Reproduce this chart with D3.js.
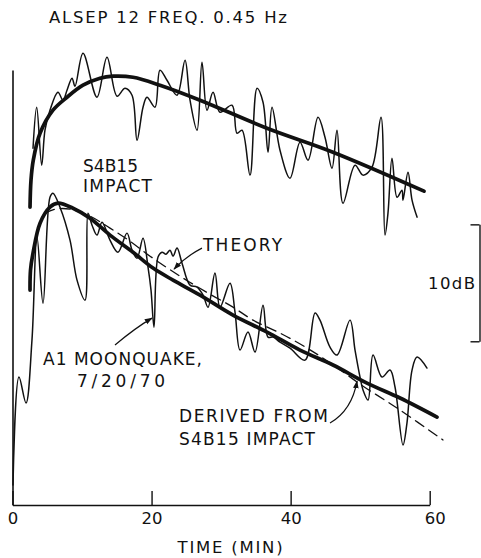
<!DOCTYPE html>
<html><head><meta charset="utf-8">
<script src="https://cdn.jsdelivr.net/npm/d3@7/dist/d3.min.js"></script>
<style>
html,body{margin:0;padding:0;background:#fff;}
svg{display:block;}
text{font-family:"DejaVu Sans","Liberation Sans",Arial,sans-serif;fill:#111;}
</style></head>
<body>
<script>
// ---- data (time in minutes, level in dB, arbitrary zero) ----
const xTicks = [0, 20, 40, 60];
const xTickLabels = ["0", "20", "40", "60"];
const titleText = "ALSEP 12 FREQ. 0.45 Hz";
const xLabel = "TIME (MIN)";
const scaleBarDb = [14, 24];      // 10 dB reference bar
const scaleBarLabel = "10dB";

// S4B15 impact, observed (thin)
const impactT  = [2.95,3.48,4.20,4.67,5.39,6.54,7.26,7.84,8.56,8.99,10.14,12.15,13.59,15.03,16.18,17.19,17.91,18.77,19.34,20.49,21.21,22.22,23.66,24.81,25.53,26.54,27.25,27.97,28.84,29.84,31.57,32.29,33.01,34.16,35.17,36.03,36.75,37.32,38.47,39.91,41.35,42.50,43.94,44.94,45.95,46.67,47.53,49.26,50.41,51.70,53.00,53.57,54.00,54.58,55.30,56.01,56.16,56.88,57.46,58.18];
const impactDb = [30.51,34.02,29.06,32.05,33.76,35.30,34.62,35.47,36.50,35.81,38.63,34.87,38.29,34.96,35.64,35.04,31.20,34.02,34.87,34.02,37.18,36.32,35.04,38.03,34.62,32.05,37.86,33.76,35.30,33.59,34.19,31.79,32.05,28.21,35.64,34.44,30.17,34.02,30.34,27.95,31.03,29.49,33.16,31.45,28.80,32.05,25.81,29.06,28.21,28.89,33.16,23.08,24.96,29.66,26.32,26.92,26.07,28.46,26.07,24.62];

// S4B15 impact, smooth fit (thick)
const impactFitT  = [2.52,2.66,2.99,3.96,5.82,7.84,10.14,12.58,14.45,17.33,21.21,26.97,36.60,46.09,59.18];
const impactFitDb = [25.47,27.78,29.49,31.79,33.76,34.87,35.90,36.50,36.67,36.58,35.90,34.62,32.22,30.17,26.84];

// A1 moonquake, observed (thin)
const quakeT  = [0.07,0.93,1.94,2.80,3.52,4.39,5.39,5.82,6.83,8.27,9.28,10.43,10.86,11.44,12.15,12.87,14.02,15.17,16.47,17.19,17.91,18.77,19.49,19.92,20.35,20.93,21.50,22.08,22.65,23.09,23.66,24.38,25.53,26.54,27.40,28.12,29.12,29.84,31.28,32.00,32.72,33.87,34.88,36.03,36.75,37.47,38.47,39.91,42.07,43.51,44.22,45.66,46.67,48.54,49.26,49.98,50.41,51.13,51.85,53.14,54.29,55.01,56.16,56.73,57.46,58.18,59.61];
const quakeDb = [1.71,10.94,8.72,14.10,22.91,17.26,26.32,26.67,25.47,22.65,19.23,17.52,24.96,23.93,23.08,24.19,22.65,21.62,23.25,21.79,21.11,22.82,20.34,18.38,15.21,21.20,21.62,21.45,21.79,21.28,21.97,20.68,18.80,18.63,17.95,16.92,19.83,16.92,18.97,16.50,13.25,14.79,13.08,17.09,14.36,14.36,13.93,13.42,12.39,16.41,15.81,13.50,12.82,15.81,13.25,10.94,9.83,8.97,12.82,10.94,11.54,10.09,5.13,7.01,11.54,12.65,11.71];

// Derived from S4B15 impact (thick)
const derivedT  = [2.52,2.59,2.95,3.96,5.39,6.54,8.70,11.15,14.02,17.33,20.21,23.09,26.97,31.71,36.60,41.35,46.09,50.98,55.73,61.05];
const derivedDb = [18.38,20.09,21.54,24.10,25.47,25.81,25.38,24.53,23.08,21.62,20.26,19.23,17.95,16.24,14.79,13.25,11.97,10.43,9.15,7.52];

// Theory (dashed)
const theoryT  = [4.67,6.11,8.27,11.15,14.02,16.90,19.78,24.09,28.40,31.71,34.59,38.47,42.36,46.38,49.98,55.73,61.91];
const theoryDb = [24.96,25.30,25.30,24.70,23.68,22.56,21.28,19.57,18.03,16.92,15.81,14.70,13.42,11.88,10.34,8.12,5.56];

// annotation texts, anchored in data units [t, dB]
const labels = [
  {text:"S4B15", t:10.14, db:28.47, w:55},
  {text:"IMPACT", t:10.14, db:26.75, w:69},
  {text:"THEORY", t:27.4, db:21.71, w:79},
  {text:"A1 MOONQUAKE,", t:4.39, db:12.0, w:159},
  {text:"7/20/70", t:9.28, db:10.13, w:88},
  {text:"DERIVED FROM", t:23.94, db:7.1, w:149},
  {text:"S4B15 IMPACT", t:23.94, db:5.13, w:136}
];
// arrows: start, control, end in [t, dB]
const arrows = [
  [[27.25,21.97],[24.95,21.28],[23.23,20.17]],
  [[14.74,13.68],[17.62,15.13],[20.06,15.98]],
  [[45.66,7.01],[48.82,8.12],[49.55,10.6]]
];

// ---- drawing ----
const W = 481, H = 558;
const svg = d3.select("body").append("svg").attr("width", W).attr("height", H);
const x = d3.scaleLinear().domain([0, 60]).range([12.5, 429.7]);
const y = d3.scaleLinear().domain([0, 37.2]).range([505, 70]);
const ink = "#111";
const FONT = "DejaVu Sans, Liberation Sans, Arial, sans-serif";

svg.append("defs").append("marker")
  .attr("id","ah").attr("viewBox","0 0 10 10").attr("refX",9).attr("refY",5)
  .attr("markerWidth",8).attr("markerHeight",8).attr("orient","auto")
  .attr("markerUnits","userSpaceOnUse")
  .append("path").attr("d","M0,1.5 L10,5 L0,8.5 Z").attr("fill",ink);

// title
svg.append("text").attr("x",49).attr("y",23).attr("font-size",16.5)
  .attr("textLength",238).attr("lengthAdjust","spacing").text(titleText);

// bottom axis
const xAxis = d3.axisBottom(x).tickValues(xTicks).tickSize(-14).tickSizeOuter(0)
  .tickFormat((d,i)=>xTickLabels[i]);
const gx = svg.append("g").attr("transform",`translate(0,${y(0)})`).call(xAxis);
gx.select(".domain").attr("stroke",ink).attr("stroke-width",1.6);
gx.selectAll(".tick line").attr("stroke",ink).attr("stroke-width",1.4);
gx.selectAll(".tick text").attr("font-size",16.5).attr("font-family",FONT)
  .attr("fill",ink).attr("y",19).attr("dy",0).attr("dx",(d)=> d===60?5:0);

// left axis (plain line)
const gy = svg.append("g").attr("transform",`translate(${x(0)},0)`)
  .call(d3.axisLeft(y).tickValues([]).tickSizeOuter(0));
gy.select(".domain").attr("stroke",ink).attr("stroke-width",1.6);

svg.append("text").attr("x",(x(0)+x(60))/2+9).attr("y",553).attr("text-anchor","middle")
  .attr("font-size",16.5).attr("textLength",105).attr("lengthAdjust","spacing").text(xLabel);

// 10 dB scale bar
const sb = d3.scaleLinear().domain(scaleBarDb).range([y(scaleBarDb[0]), y(scaleBarDb[1])]);
const gs = svg.append("g").attr("transform","translate(479.5,0)")
  .call(d3.axisLeft(sb).tickValues(scaleBarDb).tickSize(9).tickSizeOuter(0).tickFormat(""));
gs.select(".domain").attr("stroke",ink).attr("stroke-width",1.4);
gs.selectAll(".tick line").attr("stroke",ink).attr("stroke-width",1.4);
svg.append("text").attr("x",428).attr("y",y(d3.mean(scaleBarDb))+6).attr("font-size",16.5)
  .attr("textLength",47).attr("lengthAdjust","spacing").text(scaleBarLabel);

// lines
const line = d3.line().x(d=>x(d[0])).y(d=>y(d[1])).curve(d3.curveCatmullRom.alpha(0.5));
const zip = (a,b)=>a.map((v,i)=>[v,b[i]]);
function draw(T, D, w, dash){
  svg.append("path").datum(zip(T,D)).attr("d",line).attr("fill","none")
    .attr("stroke",ink).attr("stroke-width",w).attr("stroke-linejoin","round")
    .attr("stroke-linecap","round").attr("stroke-dasharray",dash||null);
}
draw(impactT, impactDb, 1.5);
draw(impactFitT, impactFitDb, 3.7);
draw(theoryT, theoryDb, 1.3, "10,6");
draw(quakeT, quakeDb, 1.5);
draw(derivedT, derivedDb, 3.7);

// labels
labels.forEach(l=>{
  svg.append("text").attr("x",x(l.t)).attr("y",y(l.db)).attr("font-size",17)
    .attr("textLength",l.w).attr("lengthAdjust","spacing").text(l.text);
});
// arrows
arrows.forEach(a=>{
  const p = d3.path();
  p.moveTo(x(a[0][0]),y(a[0][1]));
  p.quadraticCurveTo(x(a[1][0]),y(a[1][1]),x(a[2][0]),y(a[2][1]));
  svg.append("path").attr("d",p.toString()).attr("fill","none").attr("stroke",ink)
    .attr("stroke-width",1.2).attr("marker-end","url(#ah)");
});
</script>
</body></html>
